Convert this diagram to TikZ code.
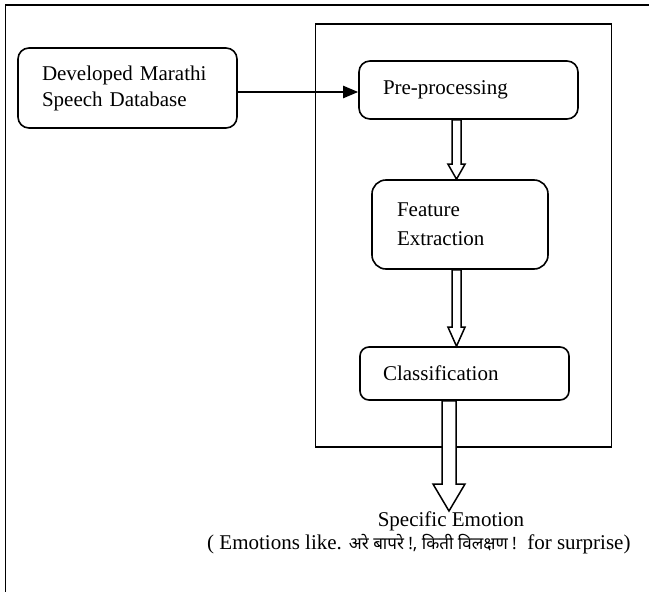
\documentclass[tikz,border=0pt]{standalone}
\usepackage{fontspec}
\setmainfont{Liberation Serif}
\newfontfamily\deva[Script=Devanagari]{Noto Sans}
\usetikzlibrary{arrows.meta,calc}
\newcommand\myhollow[5]{%
  \draw[hollow] let \p1=#1, \p2=#2 in
    (\x1-#3pt,\y1) -- (\x1-#3pt,\y2+#5pt) -- (\x1-#4pt,\y2+#5pt) -- (\x1,\y2)
    -- (\x1+#4pt,\y2+#5pt) -- (\x1+#3pt,\y2+#5pt) -- (\x1+#3pt,\y1) -- cycle;}
\begin{document}
\begin{tikzpicture}[x=1pt,y=-1pt,
  box/.style={draw,line width=1.6pt,rounded corners=11pt,align=left,
    font=\fontsize{21}{26}\selectfont,inner ysep=0pt},
  hollow/.style={draw,line width=1.5pt,fill=white,line join=miter},
  frame/.style={draw,line width=1.6pt},
  txt/.style={font=\fontsize{21}{24}\selectfont,inner sep=0pt},
  link/.style={line width=2.2pt,-{Triangle[length=15pt,width=12pt]}},
]
\useasboundingbox (0,0) rectangle (649,592);
\draw[frame] (5.5,5) rectangle (700,700);
\node[frame,minimum width=296,minimum height=423,inner sep=0pt] (sys) at (463.5,235.5) {};

\node[box,text width=171,inner xsep=24,minimum height=80] (db) at (127.5,88)
  {Developed Marathi\\Speech Database};
\node[box,text width=171,inner xsep=24,minimum height=58] (pre) at (468.5,90)
  {Pre-processing};
\node[box,rounded corners=14pt,text width=126,inner xsep=25,minimum height=89,
  font=\fontsize{21}{29}\selectfont] (feat) at (460,224.5) {Feature\\Extraction};
\node[box,rounded corners=9pt,text width=163,inner xsep=23,minimum height=53] (cls)
  at (464.5,373.5) {Classification};

\node[txt,anchor=base] (emo) at (451,526) {Specific Emotion};
\node[txt,anchor=base west] (ex) at (207,549)
  {( Emotions like. {\deva\fontsize{17}{20}\selectfont अरे बापरे !, किती विलक्षण !}\ \ for surprise)};

\draw[link] ([yshift=-4pt]db.east) -- ([yshift=-4pt]db.east -| pre.west);
\myhollow{($(pre.south)+(-12,0)$)}{(feat.north)}{4.5}{8.5}{15}
\myhollow{($(feat.south)+(-3.5,0)$)}{(cls.north)}{4.5}{8.5}{19}
\myhollow{($(cls.south)+(-15.5,0)$)}{(emo.north)}{7}{16}{27}
\end{tikzpicture}
\end{document}
